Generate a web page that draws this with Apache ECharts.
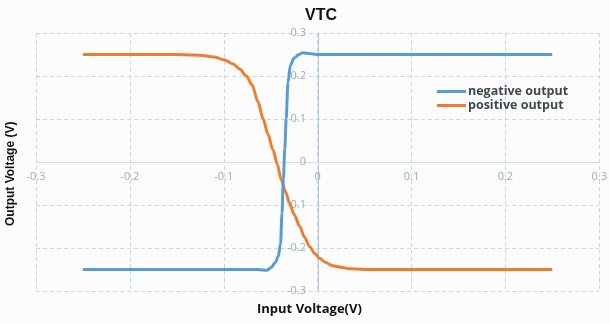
<!DOCTYPE html>
<html>
<head>
<meta charset="utf-8">
<script src="https://cdn.jsdelivr.net/npm/echarts@6/dist/echarts.min.js"></script>
<style>html,body{margin:0;padding:0;background:#fcfcfd;}#c{width:610px;height:324px;}</style>
</head>
<body>
<div id="c"></div>
<script>
const negX = [-0.25,-0.2,-0.15,-0.1,-0.065,-0.058,-0.054,-0.05,-0.045,-0.042,-0.0395,-0.038,-0.0365,-0.035,-0.0335,-0.0316,-0.029,-0.025,-0.02,-0.016,-0.012,-0.005,0,0.05,0.1,0.15,0.2,0.25];
const negY = [-0.25,-0.25,-0.25,-0.25,-0.25,-0.251,-0.252,-0.246,-0.234,-0.22,-0.19,-0.12,-0.04,0.03,0.1,0.185,0.225,0.242,0.25,0.254,0.253,0.251,0.25,0.25,0.25,0.25,0.25,0.25];
const posX = [-0.25,-0.2,-0.15,-0.133,-0.12,-0.11,-0.1,-0.09,-0.083,-0.076,-0.07,-0.0635,-0.058,-0.053,-0.0475,-0.043,-0.0387,-0.034,-0.03,-0.025,-0.019,-0.014,-0.0085,-0.003,0.002,0.008,0.016,0.025,0.034,0.05,0.1,0.15,0.2,0.25];
const posY = [0.25,0.25,0.25,0.249,0.247,0.244,0.238,0.228,0.216,0.2,0.18,0.14,0.1,0.065,0.028,-0.005,-0.042,-0.07,-0.096,-0.122,-0.15,-0.175,-0.197,-0.213,-0.224,-0.233,-0.241,-0.245,-0.248,-0.25,-0.25,-0.25,-0.25,-0.25];
const seriesNames = ['negative output','positive output'];
const xTitle = 'Input Voltage(V)';
const yTitle = 'Output Voltage (V)';
const chartTitle = 'VTC';

const zip = (a,b) => a.map((v,i)=>[v,b[i]]);
const chart = echarts.init(document.getElementById('c'), null, {renderer:'canvas'});
const labelStyle = {color:'#9eabb8', fontSize:11, fontFamily:'Open Sans, sans-serif'};
const split = {show:true, lineStyle:{color:'#c9d7e4', type:[4,3], width:1}};
chart.setOption({
  backgroundColor:'#fcfcfd',
  animation:false,
  title:{text:chartTitle, left:300, top:3, textStyle:{fontSize:16, fontWeight:'bold', color:'#111', fontFamily:'Liberation Sans, sans-serif'}},
  grid:{left:36, right:10, top:33, bottom:33, containLabel:false},
  legend:{left:432, top:80, orient:'vertical', itemGap:1, itemWidth:29, itemHeight:3, icon:'rect',
    textStyle:{fontSize:12.5, fontWeight:'bold', color:'#3f4850', fontFamily:'Open Sans, sans-serif', padding:[0,0,0,-3]},
    data:seriesNames},
  xAxis:{type:'value', min:-0.3, max:0.3, interval:0.1, position:'bottom', offset:-129,
    axisLine:{show:true, onZero:false, lineStyle:{color:'#d6e0e9', width:1}},
    axisTick:{show:false}, axisLabel:Object.assign({margin:9}, labelStyle, {showMinLabel:true, showMaxLabel:true}),
    splitLine:split},
  yAxis:{type:'value', min:-0.3, max:0.3, interval:0.1, position:'left', offset:-282,
    axisLine:{show:true, onZero:false, lineStyle:{color:'#a9cbe8', width:1}},
    axisTick:{show:false}, axisLabel:Object.assign({margin:12}, labelStyle),
    splitLine:split},
  graphic:[
    {type:'text', left:257, top:303, style:{text:xTitle, font:'bold 13px "Open Sans", sans-serif', fill:'#111'}},
    {type:'text', rotation:Math.PI/2, x:5, y:226, style:{text:yTitle, font:'bold 12px "Liberation Sans Narrow", "Liberation Sans", sans-serif', fill:'#111'}}
  ],
  series:[
    {name:seriesNames[0], type:'line', data:zip(negX,negY), symbol:'none', smooth:0.3, smoothMonotone:'x', lineStyle:{width:3, color:'#5b9bd5'}, itemStyle:{color:'#5b9bd5'}, z:3},
    {name:seriesNames[1], type:'line', data:zip(posX,posY), symbol:'none', smooth:0.3, smoothMonotone:'x', lineStyle:{width:3, color:'#ed7d31'}, itemStyle:{color:'#ed7d31'}, z:2}
  ]
});
</script>
</body>
</html>
